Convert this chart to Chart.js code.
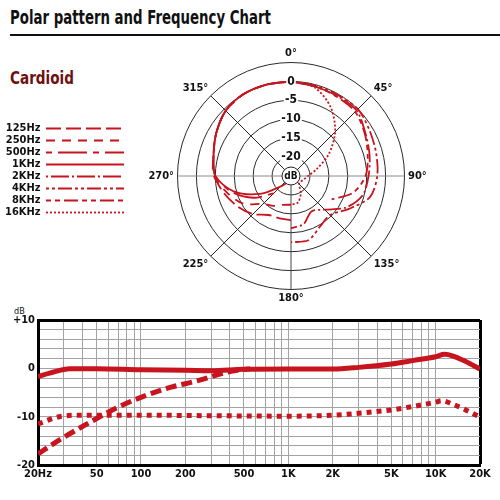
<!DOCTYPE html>
<html lang="en">
<head>
<meta charset="UTF-8">
<title>Polar pattern and Frequency Chart</title>
<script src="https://cdn.jsdelivr.net/npm/chart.js"></script>
<style>
  body {
    margin: 0;
    width: 500px;
    height: 500px;
    position: relative;
    overflow: hidden;
    background: #fff;
    font-family: "Liberation Sans Narrow", "DejaVu Sans Condensed", sans-serif;
    color: #111;
  }
  h1 {
    position: absolute;
    left: 10px;
    top: 5px;
    margin: 0;
    font-size: 20px;
    font-weight: bold;
    white-space: nowrap;
    transform: scaleX(0.74);
    transform-origin: 0 0;
  }
  .rule {
    position: absolute;
    left: 10px;
    right: 0;
    top: 34px;
    height: 2px;
    background: #111;
  }
  h2 {
    position: absolute;
    left: 10px;
    top: 67px;
    margin: 0;
    font-size: 18px;
    font-weight: bold;
    color: #6e1010;
    transform: scaleX(0.84);
    transform-origin: 0 0;
  }
  #polarBox { position: absolute; left: 0; top: 48px; width: 459px; height: 257px; }
  #freqBox { position: absolute; left: 0; top: 300px; width: 500px; height: 190px; }
  .unit { position: absolute; left: 14px; top: 306px; font-size: 9px; }
</style>
</head>
<body>
  <h1>Polar pattern and Frequency Chart</h1>
  <div class="rule"></div>
  <h2>Cardioid</h2>
  <div id="polarBox"><canvas id="polar"></canvas></div>
  <div class="unit">dB</div>
  <div id="freqBox"><canvas id="freq"></canvas></div>

<script>
const FONT = '"Liberation Sans Narrow", "DejaVu Sans Condensed", sans-serif';
const RED = '#c8141e';

// ---- polar pattern: one reading every 15 degrees, clockwise from the front ----
const angleLabels = ['0°', '15°', '30°', '45°', '60°', '75°', '90°', '105°', '120°', '135°', '150°', '165°',
                     '180°', '195°', '210°', '225°', '240°', '255°', '270°', '285°', '300°', '315°', '330°', '345°'];
const shownAngles = ['0°', '45°', '90°', '135°', '180°', '225°', '270°', '315°'];
const ringValues = [-20, -15, -10, -5, 0];
const ringLabels = ['-20', '-15', '-10', '-5', '0'];

const bandNames = ['125Hz', '250Hz', '500Hz', '1KHz', '2KHz', '4KHz', '8KHz', '16KHz'];

// left half of the pattern (low bands)
const hz125 = [0, null, null, null, null, null, null, null, null, null, null, null,
               -13.3, -13.4, -13.1, -10.8, -8.8, -6.8, -4.8, -3.8, -2.2, -0.6, 0, 0];
const hz250 = [0, null, null, null, null, null, null, null, null, null, null, null,
               -17.4, -17.1, -15.9, -14.6, -10.4, -7.6, -4.6, -3.8, -2.2, -0.6, 0, 0];
const hz500 = [0, null, null, null, null, null, null, null, null, null, null, null,
               null, null, null, -18.5, -13.5, -8.8, -5, -3.8, -2.2, -0.6, 0, 0];
const khz1  = [0, null, null, null, null, null, null, null, null, null, null, null,
               null, null, -23, -21, -15.5, -9.3, -5, -3.8, -2.2, -0.6, 0, 0];
// right half of the pattern (high bands)
const khz2  = [0, -0.5, -0.6, -0.5, -2.3, -3.5, -4.5, -5.4, -8.3, -12.4, -14.2, -11.9,
               -11.2, null, null, null, null, null, null, null, null, null, null, null];
const khz4  = [0, -0.3, -0.3, 0, -1, -1.7, -2.2, -3.4, -7.5, -10.4, -9.6, -7.4,
               -7.5, null, null, null, null, null, null, null, null, null, null, null];
const khz8  = [0, -0.5, -0.8, -1, -2.5, -4, -5.3, -8, -12.6, null, null, null,
               null, null, null, null, null, null, null, null, null, null, null, null];
const khz16 = [0, -0.8, -4, -8.5, -13.5, -18, -20.5, -21.5, -22, -22, -19.8, -17.8,
               -17.4, null, null, null, null, null, null, null, null, null, null, null];

const bandValues = [hz125, hz250, hz500, khz1, khz2, khz4, khz8, khz16];
const bandDash = [[15, 5], [9, 7], [6, 6, 29, 6], [], [2, 3, 18, 3], [3, 3, 3, 3, 14, 3], [5, 4, 5, 4, 14, 4], [2, 2]];

// ---- frequency response ----
const respFreq = [20, 24, 33, 50, 100, 200, 300, 500, 1000, 2000, 3000, 5000, 7000, 10000, 11500, 13000, 16000, 20000];
const respDb   = [-1.7, -1.0, -0.1, -0.1, -0.3, -0.4, -0.5, -0.2, -0.15, -0.15, 0.2, 0.9, 1.6, 2.4, 2.9, 2.6, 1.4, -0.15];

const cutFreq = [20, 28, 46, 67, 100, 160, 240, 360, 450, 550];
const cutDb   = [-17.7, -14.8, -11.0, -8.3, -6.0, -3.9, -2.6, -1.0, -0.4, -0.1];

const padFreq = [20, 29, 40, 100, 300, 1000, 2000, 3000, 5000, 7000, 10000, 11000, 13000, 16000, 20000];
const padDb   = [-11.5, -9.9, -9.7, -9.7, -9.8, -9.9, -9.7, -9.3, -8.6, -7.9, -7.0, -6.7, -7.4, -8.6, -10.1];

const gridFreqs = [20, 30, 40, 50, 60, 70, 80, 90, 100, 200, 300, 400, 500, 600, 700, 800, 900,
                   1000, 2000, 3000, 4000, 5000, 6000, 7000, 8000, 9000, 10000, 20000];
const freqTickValues = [20, 50, 100, 200, 500, 1000, 2000, 5000, 10000, 20000];
const freqTickLabels = ['20Hz', '50', '100', '200', '500', '1K', '2K', '5K', '10K', '20K'];
const dbGrid = [-20, -18, -16, -14, -12, -10, -8, -6, -4, -2, 0, 2, 4, 6, 8, 10];
const dbTickValues = [10, 0, -10, -20];
const dbTickLabels = ['+10', '0', '-10', '-20'];

Chart.defaults.font.family = FONT;
Chart.defaults.color = '#111';

function angleLineColour(ctx) {
    const a = angleLabels[ctx.index];
    if (a === '0°' || !shownAngles.includes(a)) return 'rgba(0,0,0,0)';
    if (a === '90°' || a === '270°') return '#8a8a8a';
    if (a === '180°') return '#444';
    return '#222';
}

// small "dB" badge in the middle of the polar plot
const centreBadge = {
    id: 'centreBadge',
    afterDraw(chart) {
        const r = chart.scales.r;
        const ctx = chart.ctx;
        ctx.save();
        ctx.beginPath();
        ctx.arc(r.xCenter, r.yCenter, 9, 0, Math.PI * 2);
        ctx.fillStyle = '#fff';
        ctx.fill();
        ctx.lineWidth = 1;
        ctx.strokeStyle = '#222';
        ctx.stroke();
        ctx.fillStyle = '#111';
        ctx.font = 'bold 10px ' + FONT;
        ctx.textAlign = 'center';
        ctx.textBaseline = 'middle';
        ctx.fillText('dB', r.xCenter, r.yCenter + 0.5);
        ctx.restore();
    }
};

new Chart(document.getElementById('polar'), {
    type: 'radar',
    data: {
        labels: angleLabels,
        datasets: bandNames.map((name, i) => ({
            label: name,
            data: bandValues[i],
            borderColor: RED,
            backgroundColor: RED,
            borderWidth: 1.8,
            borderDash: bandDash[i],
            fill: false,
            pointRadius: 0,
            pointHoverRadius: 0,
            tension: 0.3
        }))
    },
    options: {
        animation: false,
        responsive: true,
        maintainAspectRatio: false,
        layout: { padding: { left: -5, right: 1 } },
        plugins: {
            tooltip: { enabled: false },
            legend: {
                position: 'left',
                align: 'start',
                rtl: true,
                title: { display: true, text: '', font: { size: 10 }, padding: { top: 0, bottom: 62 } },
                labels: {
                    usePointStyle: true,
                    pointStyleWidth: 78,
                    padding: 1,
                    color: '#111',
                    font: { size: 11, weight: 'bold' },
                    // the point-style legend drops the dash, so hand it over explicitly
                    generateLabels: chart => bandNames.map((name, i) => ({
                        text: name,
                        datasetIndex: i,
                        fillStyle: RED,
                        strokeStyle: RED,
                        fontColor: '#111',
                        lineWidth: 1.8,
                        lineDash: bandDash[i],
                        pointStyle: 'line',
                        hidden: !chart.isDatasetVisible(i)
                    }))
                }
            }
        },
        scales: {
            r: {
                min: -25,
                max: 5,
                ticks: {
                    stepSize: 5,
                    z: 1,
                    color: '#111',
                    font: { size: 12, weight: 'bold', lineHeight: 1 },
                    backdropPadding: 1,
                    backdropColor: ctx => ringValues.includes(ctx.tick.value) ? '#fff' : 'rgba(0,0,0,0)',
                    callback: v => {
                        const i = ringValues.indexOf(v);
                        return i < 0 ? '' : ringLabels[i];
                    }
                },
                grid: { circular: true, color: '#2a2a2a', lineWidth: 1 },
                angleLines: { color: angleLineColour, lineWidth: 1 },
                pointLabels: {
                    color: '#111',
                    padding: -3.5,
                    font: { size: 11, weight: 'bold', lineHeight: 1 },
                    callback: label => shownAngles.includes(label) ? label : ''
                }
            }
        }
    },
    plugins: [centreBadge]
});

const toPoints = (xs, ys) => xs.map((x, i) => ({ x: x, y: ys[i] }));

new Chart(document.getElementById('freq'), {
    type: 'line',
    data: {
        datasets: [
            { label: 'response', data: toPoints(respFreq, respDb), borderDash: [] },
            { label: 'low cut', data: toPoints(cutFreq, cutDb), borderDash: [11, 5] },
            { label: 'pad', data: toPoints(padFreq, padDb), borderDash: [5, 5] }
        ].map(d => Object.assign(d, { borderColor: RED, borderWidth: 5, fill: false }))
    },
    options: {
        animation: false,
        responsive: true,
        maintainAspectRatio: false,
        layout: { padding: { top: 20, right: 20 } },
        plugins: { legend: { display: false }, tooltip: { enabled: false } },
        elements: {
            point: { radius: 0, hoverRadius: 0 },
            line: { tension: 0.4, cubicInterpolationMode: 'monotone', borderCapStyle: 'butt' }
        },
        scales: {
            x: {
                type: 'logarithmic',
                min: 20,
                max: 20000,
                afterBuildTicks: s => { s.ticks = gridFreqs.map(v => ({ value: v })); },
                afterFit: s => { s.height = 25; },
                ticks: {
                    autoSkip: false,
                    maxRotation: 0,
                    padding: 3,
                    color: '#111',
                    font: { size: 11, weight: 'bold' },
                    callback: v => {
                        const i = freqTickValues.indexOf(v);
                        return i < 0 ? '' : freqTickLabels[i];
                    }
                },
                grid: {
                    drawTicks: false,
                    color: ctx => ctx.tick && ctx.tick.value === 20000 ? '#000' : '#a3a3a3',
                    lineWidth: ctx => ctx.tick && ctx.tick.value === 20000 ? 3 : 1
                },
                border: { color: '#000', width: 3 }
            },
            y: {
                min: -20,
                max: 10,
                afterBuildTicks: s => { s.ticks = dbGrid.map(v => ({ value: v })); },
                afterFit: s => { s.width = 38; },
                ticks: {
                    autoSkip: false,
                    padding: 3,
                    color: '#111',
                    font: { size: 11, weight: 'bold' },
                    callback: v => {
                        const i = dbTickValues.indexOf(v);
                        return i < 0 ? '' : dbTickLabels[i];
                    }
                },
                grid: {
                    drawTicks: false,
                    color: ctx => ctx.tick && ctx.tick.value === 10 ? '#000' : '#a3a3a3',
                    lineWidth: ctx => ctx.tick && ctx.tick.value === 10 ? 3 : 1
                },
                border: { color: '#000', width: 3 }
            }
        }
    }
});
</script>
</body>
</html>
